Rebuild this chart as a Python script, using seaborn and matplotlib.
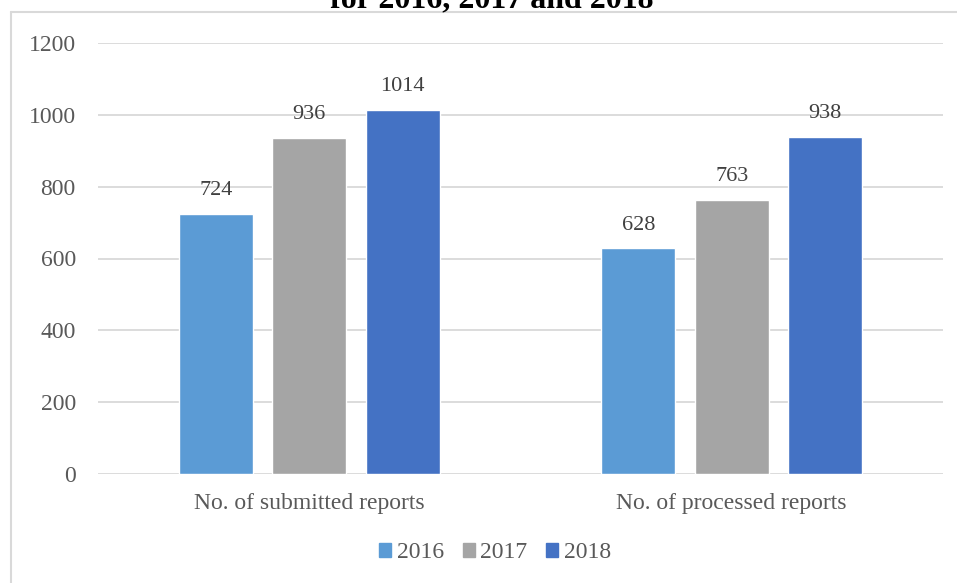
import matplotlib
matplotlib.use("Agg")
import matplotlib.pyplot as plt
from matplotlib.lines import Line2D
import seaborn as sns
import pandas as pd

categories = ["No. of submitted reports", "No. of processed reports"]
years = ["2016", "2017", "2018"]
values_2016 = [724, 628]
values_2017 = [936, 763]
values_2018 = [1014, 938]
yticks = [0, 200, 400, 600, 800, 1000, 1200]

colors = ["#5B9BD5", "#A5A5A5", "#4472C4"]

rows = []
for yr, vals in zip(years, [values_2016, values_2017, values_2018]):
    for cat, v in zip(categories, vals):
        rows.append({"category": cat, "year": yr, "count": v})
df = pd.DataFrame(rows)

sns.set_theme(style="white")
plt.rcParams["font.family"] = ["Liberation Serif", "DejaVu Serif"]

W, H = 957, 583
fig = plt.figure(figsize=(W / 100, H / 100), dpi=100)
ax = fig.add_axes([98 / W, 1 - 474 / H, (943 - 98) / W, (474 - 43) / H])

sns.barplot(data=df, x="category", y="count", hue="year", order=categories,
            hue_order=years, palette=colors, width=0.664, gap=0.21,
            saturation=1, ax=ax, legend=True)

ax.set_ylim(0, 1200)
ax.set_xlim(-0.5, 1.5)
ax.set_yticks(yticks)
ax.yaxis.grid(True, color="#D9D9D9", linewidth=1.3)
ax.set_axisbelow(True)
for s in ax.spines.values():
    s.set_visible(False)
ax.tick_params(axis="both", length=0, labelsize=17, colors="#595959")
ax.tick_params(axis="y", pad=16)
ax.tick_params(axis="x", pad=14)
ax.set_xlabel("")
ax.set_ylabel("")

for cont in ax.containers:
    ax.bar_label(cont, fmt="%d", padding=10, fontsize=16, color="#404040")

handles = [plt.Rectangle((0, 0), 1, 1, color=c) for c in colors]
ax.legend(handles, years, loc="center", bbox_to_anchor=(0.47, -0.183),
          ncol=3, frameon=False, fontsize=17, handlelength=0.5,
          handleheight=0.5, handletextpad=0.25, columnspacing=0.8,
          labelcolor="#595959")

# chart frame
fig.add_artist(Line2D([11 / W, 1], [1 - 12 / H, 1 - 12 / H], color="#D9D9D9",
                      linewidth=1.5, transform=fig.transFigure))
fig.add_artist(Line2D([11 / W, 11 / W], [0, 1 - 12 / H], color="#D9D9D9",
                      linewidth=1.5, transform=fig.transFigure))

fig.text(492 / W, 1 - 7 / H, "for 2016, 2017 and 2018", ha="center",
         va="baseline", fontsize=23, fontweight="bold", color="black")

fig.savefig("out.png", dpi=100)
